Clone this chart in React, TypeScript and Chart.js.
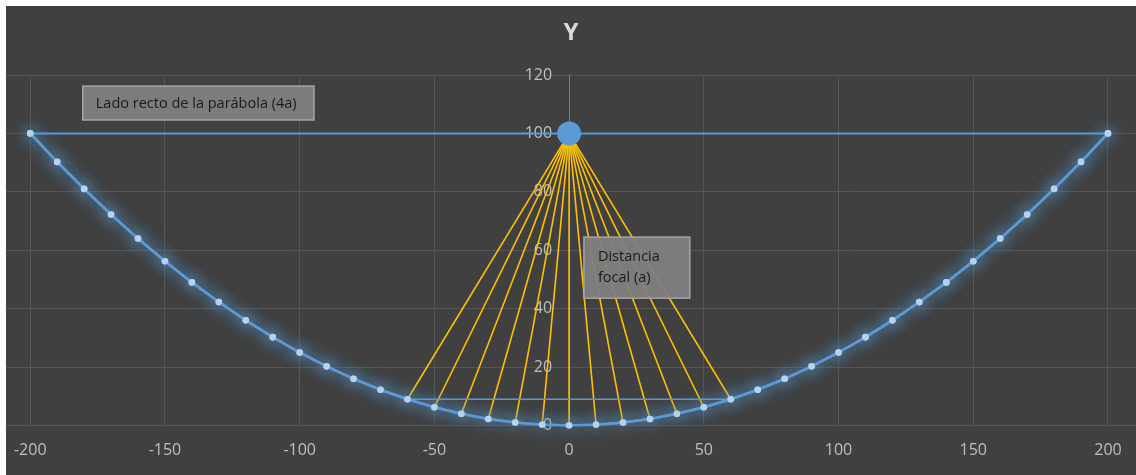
import React, { useEffect, useRef } from "react";
import { Chart, registerables } from "chart.js";

Chart.register(...registerables);

// ---- data ----
const PARABOLA_X = [-200, -190, -180, -170, -160, -150, -140, -130, -120, -110, -100, -90, -80, -70, -60, -50, -40, -30, -20, -10, 0, 10, 20, 30, 40, 50, 60, 70, 80, 90, 100, 110, 120, 130, 140, 150, 160, 170, 180, 190, 200];
const PARABOLA_Y = [100, 90.25, 81, 72.25, 64, 56.25, 49, 42.25, 36, 30.25, 25, 20.25, 16, 12.25, 9, 6.25, 4, 2.25, 1, 0.25, 0, 0.25, 1, 2.25, 4, 6.25, 9, 12.25, 16, 20.25, 25, 30.25, 36, 42.25, 49, 56.25, 64, 72.25, 81, 90.25, 100];
const FOCUS_X = [0];
const FOCUS_Y = [100];
const LATUS_X = [-200, 200];
const LATUS_Y = [100, 100];
const RAY_X = [-60, -50, -40, -30, -20, -10, 0, 10, 20, 30, 40, 50, 60];
const RAY_Y = [9, 6.25, 4, 2.25, 1, 0.25, 0, 0.25, 1, 2.25, 4, 6.25, 9];
const CHORD_X = [-60, 60];
const CHORD_Y = [9, 9];
const X_TICKS = [-200, -150, -100, -50, 0, 50, 100, 150, 200];
const Y_TICKS = [0, 20, 40, 60, 80, 100, 120];
const TITLE = "Y";
const NOTE_LATUS = ["Lado recto de la parábola (4a)"];
const NOTE_FOCAL = ["Distancia", "focal (a)"];

const FONT = "'Open Sans', 'Noto Sans', sans-serif";
const BLUE = "#5b9bd5";
const YELLOW = "#ffc000";
const TICK_COLOR = "#bfbfbf";

const pts = (xs: number[], ys: number[]) => xs.map((x, i) => ({ x, y: ys[i] }));

export default function App() {
  const ref = useRef<HTMLCanvasElement | null>(null);

  useEffect(() => {
    document.body.style.margin = "0";
    const canvas = ref.current;
    if (!canvas) return;

    const bgPlugin = {
      id: "bg",
      beforeDraw(chart: any) {
        const ctx = chart.ctx;
        ctx.save();
        ctx.fillStyle = "#ffffff";
        ctx.fillRect(0, 0, chart.width, chart.height);
        ctx.fillStyle = "#404040";
        ctx.fillRect(6, 6, chart.width - 6, chart.height - 6);
        ctx.restore();
      },
    };

    // y tick labels, drawn left of the centred axis (before datasets so marks cover them)
    const yLabelPlugin = {
      id: "yLabels",
      beforeDatasetsDraw(chart: any) {
        const xs = chart.scales.x;
        const ys = chart.scales.y;
        const ctx = chart.ctx;
        const ax = xs.getPixelForValue(0);
        ctx.save();
        ctx.fillStyle = TICK_COLOR;
        ctx.font = `16px ${FONT}`;
        ctx.textAlign = "right";
        ctx.textBaseline = "middle";
        Y_TICKS.forEach((v) => ctx.fillText(String(v), ax - 17, ys.getPixelForValue(v)));
        ctx.restore();
      },
    };

    const glowPlugin = {
      id: "glow",
      beforeDatasetDraw(chart: any, args: any) {
        const ds = chart.data.datasets[args.index] as any;
        if (ds.glow) {
          const ctx = chart.ctx;
          ctx.save();
          ctx.shadowColor = "rgba(91,155,213,1)";
          ctx.shadowBlur = 15;
        }
      },
      afterDatasetDraw(chart: any, args: any) {
        const ds = chart.data.datasets[args.index] as any;
        if (ds.glow) {
          args.meta.controller.draw();
          chart.ctx.restore();
        }
      },
    };

    const drawNote = (chart: any, x0: number, y0: number, x1: number, y1: number, lines: string[], tx: number, ty: number, lh: number) => {
      const xs = chart.scales.x;
      const ys = chart.scales.y;
      const ctx = chart.ctx;
      const l = xs.getPixelForValue(x0);
      const r = xs.getPixelForValue(x1);
      const t = ys.getPixelForValue(y0);
      const b = ys.getPixelForValue(y1);
      ctx.save();
      ctx.fillStyle = "rgba(127,127,127,0.94)";
      ctx.fillRect(l, t, r - l, b - t);
      ctx.strokeStyle = "#a6a6a6";
      ctx.lineWidth = 1.5;
      ctx.strokeRect(l, t, r - l, b - t);
      ctx.fillStyle = "#1a1a1a";
      ctx.font = `14.5px ${FONT}`;
      ctx.textBaseline = "middle";
      ctx.textAlign = "left";
      lines.forEach((s, i) => ctx.fillText(s, l + tx, t + ty + i * lh));
      ctx.restore();
    };

    const notePlugin = {
      id: "notes",
      afterDraw(chart: any) {
        drawNote(chart, -180.5, 116.2, -94.7, 104.6, NOTE_LATUS, 13, 17.5, 0);
        drawNote(chart, 5.5, 64.5, 44.8, 43.6, NOTE_FOCAL, 14, 20, 21);
      },
    };

    const rays = RAY_X.map((x, i) => ({
      type: "scatter",
      data: [{ x: FOCUS_X[0], y: FOCUS_Y[0] }, { x, y: RAY_Y[i] }],
      showLine: true,
      borderColor: YELLOW,
      borderWidth: 1.6,
      pointRadius: 0,
      order: 3,
    }));

    const chart = new Chart(canvas, {
      type: "scatter",
      data: {
        datasets: [
          {
            data: pts(FOCUS_X, FOCUS_Y),
            backgroundColor: BLUE,
            borderColor: BLUE,
            pointRadius: 12,
            borderWidth: 0,
            order: 0,
          } as any,
          {
            data: pts(PARABOLA_X, PARABOLA_Y),
            showLine: true,
            borderColor: BLUE,
            borderWidth: 2.5,
            pointRadius: 3.3,
            pointBackgroundColor: "#b4d3ef",
            pointBorderWidth: 0,
            glow: true,
            order: 1,
          } as any,
          {
            data: pts(CHORD_X, CHORD_Y),
            showLine: true,
            borderColor: "#5b9bd5",
            borderWidth: 1.5,
            pointRadius: 0,
            order: 2,
          } as any,
          ...rays,
          {
            data: pts(LATUS_X, LATUS_Y),
            showLine: true,
            borderColor: BLUE,
            borderWidth: 2,
            pointRadius: 0,
            order: 4,
          } as any,
        ],
      },
      options: {
        responsive: false,
        animation: false,
        devicePixelRatio: 1,
        layout: { autoPadding: false, padding: { top: 6, left: 6, right: 0, bottom: 0 } },
        plugins: {
          legend: { display: false },
          tooltip: { enabled: false },
          title: {
            display: true,
            text: TITLE,
            color: "#d9d9d9",
            font: { family: FONT, size: 24, weight: "bold" },
            padding: { top: 13, bottom: 27.2 },
          },
        },
        scales: {
          x: {
            type: "linear",
            min: -209,
            max: 210.4,
            afterBuildTicks: (s: any) => {
              s.ticks = X_TICKS.map((v) => ({ value: v }));
            },
            afterFit: (s: any) => {
              s.height = 49.5;
              s.paddingLeft = 0;
              s.paddingRight = 0;
            },
            grid: { color: "#555555", lineWidth: 1, drawTicks: false },
            border: { display: true, color: "#555555" },
            ticks: {
              color: TICK_COLOR,
              font: { family: FONT, size: 16 },
              padding: 15,
              maxRotation: 0,
            },
          },
          y: {
            type: "linear",
            position: { x: 0 } as any,
            min: 0,
            max: 120,
            afterBuildTicks: (s: any) => {
              s.ticks = Y_TICKS.map((v) => ({ value: v }));
            },
            grid: { color: "#555555", lineWidth: 1, drawTicks: false },
            border: { display: true, color: "#808080", width: 1 },
            ticks: { display: false },
          },
        },
      } as any,
      plugins: [bgPlugin, yLabelPlugin, glowPlugin, notePlugin],
    });

    return () => chart.destroy();
  }, []);

  return <canvas ref={ref} width={1136} height={475} style={{ display: "block" }} />;
}
